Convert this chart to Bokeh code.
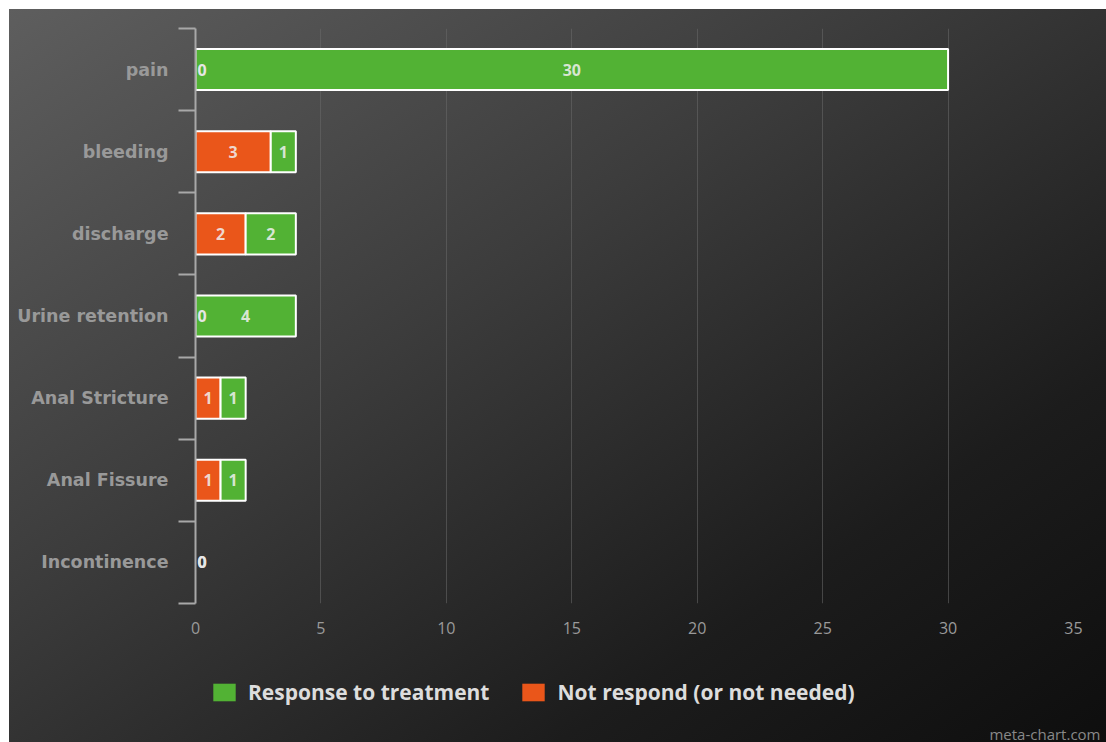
from bokeh.plotting import figure
from bokeh.layouts import column
from bokeh.models import (ColumnDataSource, FixedTicker, Legend, LegendItem,
                          Range1d, Label)
from bokeh.core.properties import value
from bokeh.embed import file_html
from bokeh.resources import INLINE

# Complications and their outcome counts (top to bottom)
categories = ["pain", "bleeding", "discharge", "Urine retention",
              "Anal Stricture", "Anal Fissure", "Incontinence"]
not_respond = [0, 3, 2, 0, 1, 1, 0]
response = [30, 1, 2, 4, 1, 1, 0]
x_ticks = [0, 5, 10, 15, 20, 25, 30, 35]
series_names = ["Response to treatment", "Not respond (or not needed)"]

GREEN = "#52b234"
ORANGE = "#ea561a"

n = len(categories)
ypos = [n - 0.5 - i for i in range(n)]
stack_base = [0] * n
stack_mid = list(not_respond)


def segments(left, vals):
    """Keep only non-empty segments of one series."""
    keep = [i for i in range(n) if vals[i] > 0]
    return ColumnDataSource(dict(
        y=[ypos[i] for i in keep],
        left=[left[i] for i in keep],
        right=[left[i] + vals[i] for i in keep],
    ))


src_nr = segments(stack_base, not_respond)
src_rs = segments(stack_mid, response)

# segment labels: centred in non-empty segments, at the baseline for zeros
lab_x, lab_y, lab_t = [], [], []
zero_x, zero_y, zero_t = [], [], []
for i in range(n):
    for left, val in ((stack_base[i], not_respond[i]), (stack_mid[i], response[i])):
        if val == 0:
            zero_x.append(left)
            zero_y.append(ypos[i])
            zero_t.append(str(val))
        else:
            lab_x.append(left + val / 2)
            lab_y.append(ypos[i])
            lab_t.append(str(val))

# ---- main chart ----
p = figure(width=1097, height=636, output_backend="svg", toolbar_location=None,
           x_range=Range1d(0, 35), y_range=Range1d(0, n),
           min_border_left=186, min_border_right=33, min_border_top=19,
           min_border_bottom=42)
p.background_fill_color = None
p.border_fill_color = None
p.outline_line_color = None

r_nr = p.hbar(y="y", left="left", right="right", height=0.5, source=src_nr,
              fill_color=ORANGE, line_color="white", line_width=2)
r_rs = p.hbar(y="y", left="left", right="right", height=0.5, source=src_rs,
              fill_color=GREEN, line_color="white", line_width=2)

p.text(x=lab_x, y=lab_y, text=lab_t, text_align="center", text_baseline="middle",
       text_font=value("Open Sans"), text_font_style="bold", text_font_size="16px",
       text_color="#f0f0f0", text_alpha=0.85)
p.text(x=zero_x, y=zero_y, text=zero_t, text_align="left", text_baseline="middle",
       x_offset=2, text_font=value("Open Sans"), text_font_style="bold",
       text_font_size="16px", text_color="#e6e6e6")

p.ygrid.grid_line_color = None
p.xgrid.ticker = FixedTicker(ticks=x_ticks[1:])
p.xgrid.grid_line_color = "#6a6a6a"
p.xgrid.grid_line_alpha = 0.55
p.xgrid.grid_line_width = 1

xa = p.xaxis[0]
xa.ticker = FixedTicker(ticks=x_ticks)
xa.axis_line_color = None
xa.major_tick_line_color = None
xa.minor_tick_line_color = None
xa.major_tick_out = 0
xa.minor_tick_out = 0
xa.major_label_text_color = "#9a9a9a"
xa.major_label_text_font = "Open Sans"
xa.major_label_text_font_size = "16px"
xa.major_label_standoff = 18

ya = p.yaxis[0]
ya.ticker = FixedTicker(ticks=ypos, minor_ticks=list(range(n + 1)))
ya.major_label_overrides = {y: c for y, c in zip(ypos, categories)}
ya.axis_line_color = "#a8a8a8"
ya.axis_line_width = 2
ya.major_tick_line_color = None
ya.minor_tick_line_color = "#a8a8a8"
ya.minor_tick_line_width = 2
ya.minor_tick_out = 17
ya.minor_tick_in = 0
ya.major_label_standoff = 10
ya.major_label_text_color = "#999999"
ya.major_label_text_font = "DejaVu Sans"
ya.major_label_text_font_style = "bold"
ya.major_label_text_font_size = "17.5px"

# ---- footer strip with legend and credit ----
foot = figure(width=1097, height=97, output_backend="svg", toolbar_location=None,
              x_range=Range1d(0, 1), y_range=Range1d(0, 1),
              x_axis_type=None, y_axis_type=None, min_border=0)
foot.frame_align = False
foot.background_fill_color = None
foot.border_fill_color = None
foot.outline_line_color = None
foot.grid.visible = False

# legend keys: zero-width bars that only carry the series styles
key_src = ColumnDataSource(dict(y=[0], left=[0], right=[0]))
k_rs = foot.hbar(y="y", left="left", right="right", height=0, source=key_src,
                 fill_color=GREEN, line_color=None)
k_nr = foot.hbar(y="y", left="left", right="right", height=0, source=key_src,
                 fill_color=ORANGE, line_color=None)

legend = Legend(items=[
    LegendItem(label=series_names[0], renderers=[k_rs]),
    LegendItem(label=series_names[1], renderers=[k_nr]),
], orientation="horizontal", location=(201, 36),
    background_fill_alpha=0, border_line_color=None,
    label_text_color="#dddddd", label_text_font="Open Sans",
    label_text_font_style="bold", label_text_font_size="21px",
    glyph_width=28, glyph_height=22, spacing=30, label_standoff=10,
    padding=6, margin=0)
foot.add_layout(legend)

foot.add_layout(Label(x=1091, y=9, x_units="screen", y_units="screen",
                      text="meta-chart.com", text_align="right",
                      text_baseline="middle", text_color="#888888",
                      text_font="Open Sans", text_font_size="15px"))

page = column(p, foot, spacing=0)
page.margin = (9, 0, 0, 9)
page.styles = {"background": "linear-gradient(to bottom right, #5e5e5e 0%, #3c3c3c 40%, #1c1c1c 75%, #0e0e0e 100%)"}

open("out.html", "w").write(file_html(page, INLINE))
